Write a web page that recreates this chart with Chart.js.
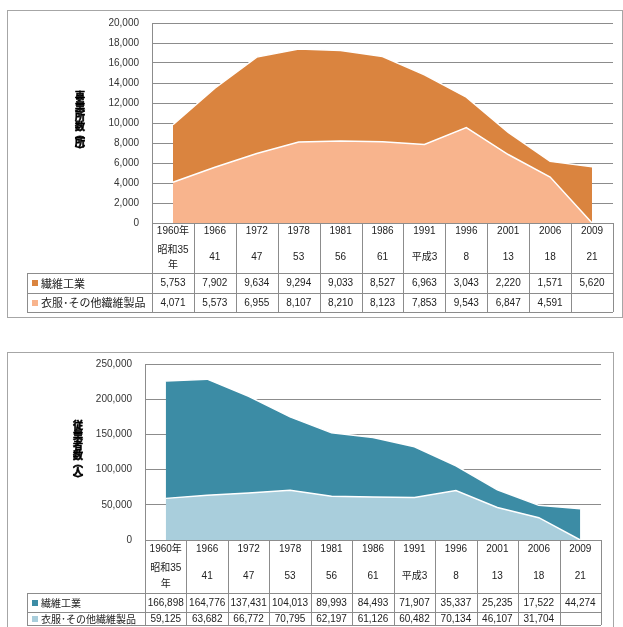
<!DOCTYPE html>
<html><head><meta charset="utf-8">
<script src="https://cdn.jsdelivr.net/npm/chart.js@4.4.1/dist/chart.umd.min.js"></script>
<style>
html,body{margin:0;padding:0;background:#fff;width:623px;height:627px;overflow:hidden;}
.frame{position:absolute;border:1px solid #a6a6a6;box-sizing:border-box;}
canvas{position:absolute;left:0;}
</style></head><body>
<div class="frame" style="left:7px;top:10px;width:616px;height:308px"></div>
<div class="frame" style="left:7px;top:352px;width:607px;height:300px"></div>
<canvas id="c1" width="623" height="330" style="top:0"></canvas>
<canvas id="c2" width="623" height="297" style="top:330px"></canvas>
<script>
// ---- data ----
const years = ['1960年','1966','1972','1978','1981','1986','1991','1996','2001','2006','2009'];
const eras = [['昭和35','年'],'41','47','53','56','61','平成3','8','13','18','21'];
const seriesNames = ['繊維工業','衣服･その他繊維製品'];
const estTextile = [5753,7902,9634,9294,9033,8527,6963,3043,2220,1571,5620];
const estApparel = [4071,5573,6955,8107,8210,8123,7853,9543,6847,4591,null];
const empTextile = [166898,164776,137431,104013,89993,84493,71907,35337,25235,17522,44274];
const empApparel = [59125,63682,66772,70795,62197,61126,60482,70134,46107,31704,null];
const estTitle = ['事','業','所','数','︵','所','︶'];
const empTitle = ['従','業','者','数','︵','人','︶'];
const estAxis = {max:20000, step:2000};
const empAxis = {max:250000, step:50000};

const FONT = '"Liberation Sans", "Noto Sans CJK JP", sans-serif';
const LINE = '#8c8c8c';
const fmt = v => (v === null || v === undefined) ? '' : v.toLocaleString('en-US');
const isBracket = c => c === '︵' || c === '︶';

function tablePlugin(o){
  return {
    id:'tbl',
    afterDraw(chart){
      const ctx = chart.ctx, a = chart.chartArea, n = years.length;
      const w = (a.right - a.left) / n;
      const top = a.bottom, hb = top + o.headerH, r1 = hb + o.rowH[0], r2 = r1 + o.rowH[1];
      const px = v => Math.round(v) + 0.5;
      ctx.save();
      ctx.strokeStyle = LINE; ctx.lineWidth = 1;
      ctx.beginPath();
      for (let i = 0; i <= n; i++) {
        const x = px(a.left + i * w);
        ctx.moveTo(x, top); ctx.lineTo(x, r2);
      }
      ctx.moveTo(px(o.legendLeft), hb); ctx.lineTo(px(o.legendLeft), r2);
      [hb, r1, r2].forEach(y => { ctx.moveTo(o.legendLeft, px(y)); ctx.lineTo(a.right, px(y)); });
      ctx.moveTo(a.left, px(top)); ctx.lineTo(a.right, px(top));
      ctx.stroke();
      // header texts
      ctx.fillStyle = '#222';
      ctx.font = '10px ' + FONT;
      ctx.textAlign = 'center'; ctx.textBaseline = 'middle';
      for (let i = 0; i < n; i++) {
        const cx = a.left + (i + 0.5) * w;
        ctx.fillText(years[i], cx, top + o.yearY);
        const e = eras[i];
        if (Array.isArray(e)) {
          ctx.fillText(e[0], cx, top + o.era2[0]);
          ctx.fillText(e[1], cx, top + o.era2[1]);
        } else {
          ctx.fillText(e, cx, top + o.eraY);
        }
        ctx.fillText(fmt(o.rows[0][i]), cx, (hb + r1) / 2 + 0.5);
        ctx.fillText(fmt(o.rows[1][i]), cx, (r1 + r2) / 2 + 0.5);
      }
      // legend cells
      ctx.textAlign = 'left';
      ctx.font = o.legendFont + 'px "Noto Sans CJK JP", sans-serif';
      [[hb, r1], [r1, r2]].forEach((r, k) => {
        const cy = (r[0] + r[1]) / 2;
        ctx.fillStyle = o.colors[k];
        ctx.fillRect(o.legendLeft + 5, Math.round(cy) - 3, 6, 6);
        ctx.fillStyle = '#222';
        ctx.fillText(seriesNames[k], o.legendLeft + 14, cy + 0.5);
      });
      // y title, stacked upright characters
      ctx.font = 'bold 10px "Noto Sans CJK JP", sans-serif';
      ctx.textAlign = 'center'; ctx.fillStyle = '#000'; ctx.strokeStyle = '#000'; ctx.lineWidth = 0.6;
      const steps = [];
      for (let i = 1; i < o.title.length; i++)
        steps.push(isBracket(o.title[i]) || isBracket(o.title[i-1]) ? 8 : 10);
      const total = steps.reduce((s, v) => s + v, 0);
      let y = (a.top + a.bottom) / 2 - total / 2;
      o.title.forEach((c, i) => {
        ctx.fillText(c, o.titleX, y); ctx.strokeText(c, o.titleX, y);
        if (i < steps.length) y += steps[i];
      });
      ctx.restore();
    }
  };
}

function makeChart(id, lower, upper, axis, colors, pad, tbl){
  new Chart(document.getElementById(id), {
    type:'line',
    data:{
      labels: years,
      datasets:[
        {label: seriesNames[1], data: lower.map(v => v ?? 0), fill:'origin',
         backgroundColor: colors[1], borderColor:'#ffffff', borderWidth:1.5, pointRadius:0, tension:0},
        {label: seriesNames[0], data: upper, fill:'-1',
         backgroundColor: colors[0], borderColor:'#ffffff', borderWidth:1.5, pointRadius:0, tension:0}
      ]
    },
    options:{
      responsive:false, animation:false, locale:'en-US',
      layout:{padding:pad},
      plugins:{legend:{display:false}, tooltip:{enabled:false}},
      scales:{
        x:{display:false, offset:true},
        y:{stacked:true, min:0, max:axis.max,
           ticks:{stepSize:axis.step, padding:13, color:'#333333', font:{family:FONT, size:10}},
           grid:{color:LINE, drawTicks:false},
           border:{display:true, color:LINE},
           afterFit(s){ s.width = 60; }}
      }
    },
    plugins:[tablePlugin(Object.assign({colors, rows:[upper, lower]}, tbl))]
  });
}

makeChart('c1', estApparel, estTextile, estAxis, ['#DA843F', '#F8B48D'],
  {left:92, right:10, top:23, bottom:107},
  {headerH:50, rowH:[20,19], yearY:8, eraY:34, era2:[27,42], legendLeft:27, legendFont:11, titleX:80, title:estTitle});
makeChart('c2', empApparel, empTextile, empAxis, ['#3C8CA5', '#A9CEDC'],
  {left:85, right:22, top:34, bottom:87},
  {headerH:53, rowH:[19,13], yearY:9, eraY:36, era2:[28,44], legendLeft:27, legendFont:10, titleX:78, title:empTitle});
</script>
</body></html>
